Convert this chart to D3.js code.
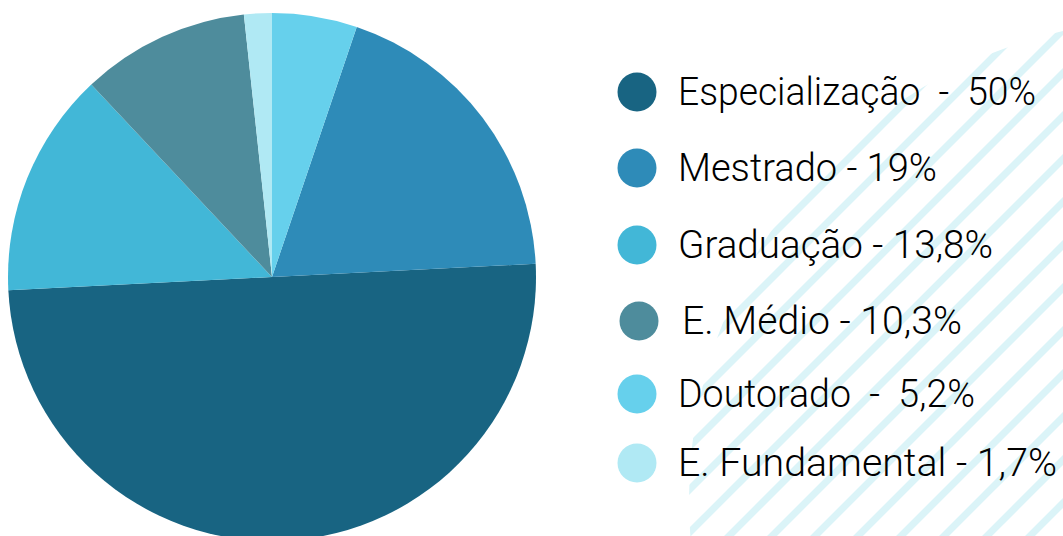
<!DOCTYPE html>
<html>
<head>
<meta charset="utf-8">
<script src="https://cdn.jsdelivr.net/npm/d3@7"></script>
<style>
  html, body { margin: 0; padding: 0; background: #fff; }
  svg { display: block; }
</style>
</head>
<body>
<div id="chart"></div>
<script>
// data, in legend order
var categories = ['Especialização', 'Mestrado', 'Graduação', 'E. Médio', 'Doutorado', 'E. Fundamental']
var values = [50, 19, 13.8, 10.3, 5.2, 1.7]
var colors = ['#186482', '#2e8bb8', '#42b7d7', '#4e8c9c', '#66d0ec', '#b0e9f4']
// separator used in the legend label (two items have wider gaps)
var separators = ['  -  ', ' - ', ' - ', ' - ', '  -  ', ' - ']
// clockwise order of the slices from 12 o'clock
var pieOrder = ['Doutorado', 'Mestrado', 'Especialização', 'Graduação', 'E. Médio', 'E. Fundamental']

var width = 1063
var height = 536

var data = categories.map(function (c, i) {
  return { name: c, value: values[i], color: colors[i], idx: i }
})

var fmt = d3.formatLocale({ decimal: ',', thousands: '.', grouping: [3], currency: ['R$', ''] }).format('~r')

var svg = d3.select('#chart').append('svg')
  .attr('width', width)
  .attr('height', height)

// striped decoration behind the legend
var defs = svg.append('defs')
defs.append('clipPath')
    .attr('id', 'stripeClip')
  .append('circle')
    .attr('cx', 1170)
    .attr('cy', 500)
    .attr('r', 481)

var gStripes = svg.append('g')
  .attr('class', 'stripes')
  .attr('clip-path', 'url(#stripeClip)')

var period = 43
gStripes.selectAll('line')
    .data(d3.range(1050 - period * 12, 1050 + period * 14, period))
  .enter().append('line')
    .attr('x1', function (k) { return k - 700 })
    .attr('y1', 700)
    .attr('x2', function (k) { return k + 100 })
    .attr('y2', -100)
    .attr('stroke', '#dbf4f8')
    .attr('stroke-width', 7)

// pie
var pie = d3.pie()
  .value(function (d) { return d.value })
  .sort(function (a, b) { return pieOrder.indexOf(a.name) - pieOrder.indexOf(b.name) })

var arc = d3.arc()
  .innerRadius(0)
  .outerRadius(264)

var gPie = svg.append('g')
  .attr('class', 'pie')
  .attr('transform', 'translate(272,277)')

gPie.selectAll('path')
    .data(pie(data))
  .enter().append('path')
    .attr('d', arc)
    .attr('fill', function (d) { return d.data.color })

// legend
var legendY = [92, 168, 245, 321, 394, 463]
var textW = [358, 259, 315, 280, 297, 379]

var gLegend = svg.append('g')
  .attr('class', 'legend')

var item = gLegend.selectAll('g')
    .data(data)
  .enter().append('g')
    .attr('transform', function (d, i) { return 'translate(0,' + legendY[i] + ')' })

item.append('circle')
  .attr('cx', function (d) { return d.name === 'E. Médio' ? 639 : 637 })
  .attr('cy', 0)
  .attr('r', 19.5)
  .attr('fill', function (d) { return d.color })

item.append('text')
  .attr('x', function (d) { return d.name === 'E. Médio' ? 682 : 678 })
  .attr('y', 13)
  .attr('font-family', 'Roboto, sans-serif')
  .attr('font-weight', 300)
  .attr('font-size', 38)
  .attr('fill', '#000')
  .attr('textLength', function (d, i) { return textW[i] })
  .attr('lengthAdjust', 'spacingAndGlyphs')
  .style('white-space', 'pre')
  .text(function (d, i) { return d.name + separators[i] + fmt(d.value) + '%' })
</script>
</body>
</html>
